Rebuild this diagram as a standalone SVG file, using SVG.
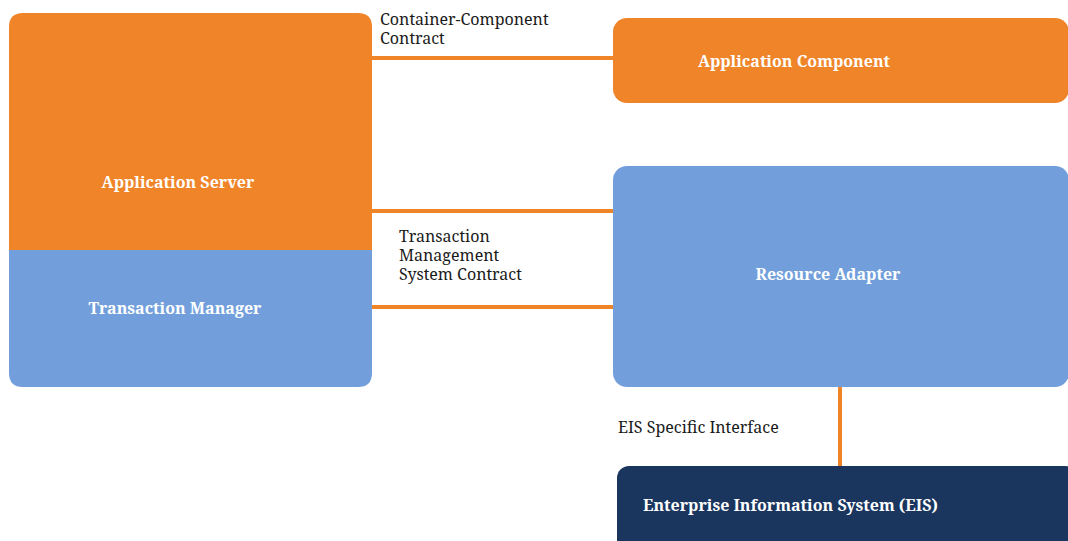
<svg xmlns="http://www.w3.org/2000/svg" width="1068" height="541" viewBox="0 0 1068 541">
<style>
.node-title{font-family:"Noto Serif","DejaVu Serif","Liberation Serif",serif;font-weight:bold;font-size:16px;fill:#ffffff}
.label{font-family:"Noto Serif","DejaVu Serif","Liberation Serif",serif;font-size:16px;fill:#1a1a1a}
.conn{stroke:#f08428;stroke-width:4;fill:none}
.orange{fill:#f08428}
.blue{fill:#729fdb}
.navy{fill:#1a365f}
</style>
<rect width="1068" height="541" fill="#ffffff"/>
<g id="connectors">
<line class="conn" x1="372" y1="58" x2="614" y2="58"/>
<line class="conn" x1="372" y1="211" x2="614" y2="211"/>
<line class="conn" x1="372" y1="307" x2="614" y2="307"/>
<line class="conn" x1="840" y1="386" x2="840" y2="467"/>
</g>
<g id="application-server">
<path class="orange" d="M9,27 Q9,13 23,13 L358,13 Q372,13 372,27 L372,250 L9,250 Z"/>
<text class="node-title" x="178" y="188" text-anchor="middle">Application Server</text>
</g>
<g id="transaction-manager">
<path class="blue" d="M9,250 L372,250 L372,373 Q372,387 358,387 L23,387 Q9,387 9,373 Z"/>
<text class="node-title" x="175" y="314" text-anchor="middle">Transaction Manager</text>
</g>
<g id="application-component">
<rect class="orange" x="613" y="18" width="456" height="85" rx="14"/>
<text class="node-title" x="794" y="67" text-anchor="middle">Application Component</text>
</g>
<g id="resource-adapter">
<rect class="blue" x="613" y="166" width="456" height="221" rx="14"/>
<text class="node-title" x="828" y="280" text-anchor="middle">Resource Adapter</text>
</g>
<g id="eis">
<rect class="navy" x="617" y="466" width="460" height="90" rx="12"/>
<text class="node-title" x="643" y="511">Enterprise Information System (EIS)</text>
</g>
<g id="labels">
<text class="label" x="380" y="25">Container-Component</text>
<text class="label" x="380" y="44">Contract</text>
<text class="label" x="399" y="242">Transaction</text>
<text class="label" x="399" y="261">Management</text>
<text class="label" x="399" y="280">System Contract</text>
<text class="label" x="618" y="433">EIS Specific Interface</text>
</g>
</svg>
